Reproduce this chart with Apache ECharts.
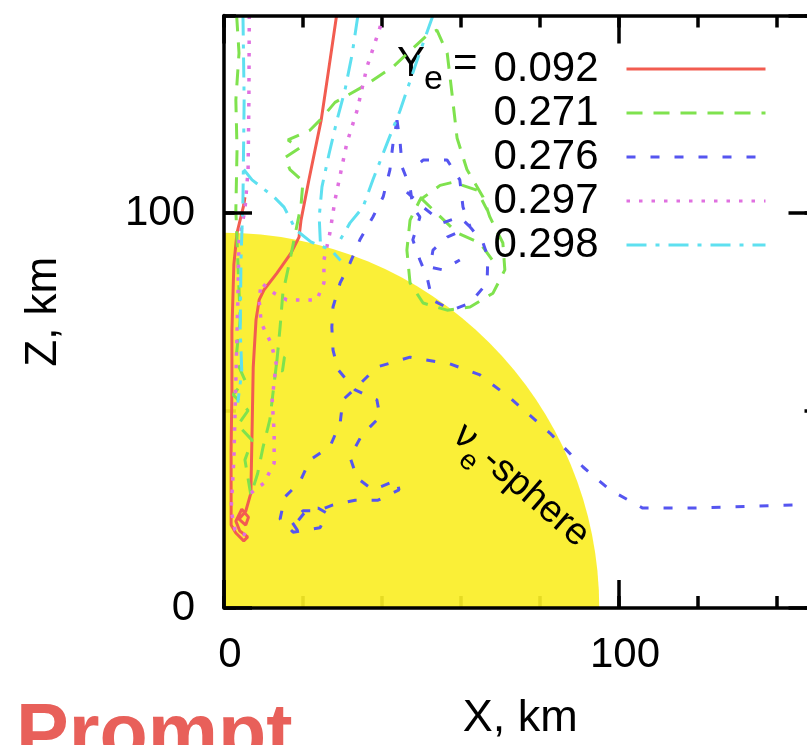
<!DOCTYPE html>
<html><head><meta charset="utf-8">
<script src="https://cdn.jsdelivr.net/npm/echarts@6/dist/echarts.min.js"></script>
<style>html,body{margin:0;padding:0;background:#fff}#c{width:807px;height:745px}</style>
</head><body><div id="c"></div>
<script>
// ---- data (km) ----
const yeLabels = ['0.092', '0.271', '0.276', '0.297', '0.298'];
const xTickLabels = ['0', '100'];
const zTickLabels = ['0', '100'];
const sphereRadius = [[0, 0, 95]];           // nu_e-sphere: centre (0,0), radius 95 km
const sphereLabelAt = [[60.5, 42.8]];

const traj092 = [
  [[28.5,150],[26.6,137],[24.6,123.5],[21.5,108.4],[19.5,98.2],[19.0,93.9],[17.0,89.9],[13.4,84.8],[10.1,80.5],[8.9,78],[8.1,72.9],[7.4,61],[7.1,44.3],[6.8,29.1],[5.5,24.5],[3.8,22.5],[5.5,21],[6.2,23],[4.5,25],[3.0,22],[4.0,19.5],[6.0,18],[5.0,17],[3.0,19],[1.8,21],[1.8,30],[1.8,40],[2.0,55],[2.0,70],[2.5,87],[3.3,95],[5.0,102],[5.3,104]]
];
const traj271 = [
  [[3.2,150],[3.8,140.5],[3.0,128.6],[3.3,116],[3.0,100.8],[3.5,88],[4.1,73],[3.0,62.8],[5.3,57.7],[2.3,54],[6.1,50],[3.5,46.3],[7.1,42.5],[5.3,37.5],[6.8,28.6],[8.5,34],[9.9,40.8],[11.6,47.6],[12.4,54.4],[13.4,62.8],[15.3,63.5],[14.8,60],[13.2,60.5],[14.2,71.1],[14.9,79.7],[16.7,88.1],[18.5,97],[19.5,102],[20,108],[16.7,111],[15.4,114],[19.2,116.5],[16.2,118.5],[21.8,121],[24.3,123.5],[28.1,128],[35.2,132],[42.8,137],[51.4,145],[53.9,146.3],[56.5,140.5],[57.7,130.4],[59,119],[61.5,111],[65.6,104],[67.3,99],[70.6,92.4],[71.1,85.6],[68.1,79.7],[62.3,76.2],[56.5,75.4],[50.4,77.2],[47.1,82.3],[46.3,90.6],[47.1,98.2],[49.6,103.3],[54.7,107],[58,107.8],[64,105.8],[66.6,100.8]],
  [[49.6,104],[59,95],[64.8,92.4],[68,88]]
];
const traj276 = [
  [[150,26.1],[145,26.1],[118.7,25.3],[106,25.3],[97.7,29.9],[90.9,35.7],[82.5,44.3],[72.4,53.2],[64.8,59],[57.2,61.8],[47.1,63.5],[38.7,61],[33.7,56],[30.1,52.7],[29.4,46.8],[26.8,40.8],[21.8,37.5],[19.2,31.9],[15.4,28.1],[14.2,22.5],[17.5,19.2],[24.3,20.3],[26.1,24],[23.8,25.3],[20.5,24.3],[18.5,21.8]],
  [[43.8,123.5],[42.8,117.7],[42.0,110.9],[40.3,104.1],[37.7,99.0],[34.4,93.2],[31.9,87.3],[29.4,82.3],[27.6,76.2],[27.3,71.1],[27.6,65.3],[28.9,60.3],[33.2,55.2],[38.7,52.7],[39.5,48.4],[34.9,43.8],[31.9,38.2],[33.7,32.9],[37.7,29.9],[43.8,32.4],[44.3,29.9],[39,27.3],[33.2,27.3],[27.6,26.1],[23.8,24.6],[20,24.6],[17.2,21.8],[18.7,19.5]],
  [[43.8,123.5],[44.6,117.7],[45.1,111.6],[47.1,106.6],[47.8,101.5],[49.6,99],[47.8,93.2],[49.6,88.1],[51.4,83.8],[52.7,78],[57.7,75.4],[62.3,77.2],[66.6,82.3],[66.8,88.9],[65.6,92.4],[62.3,96.5],[60.5,101.5],[59.7,108.4],[56.5,113.4],[50.4,113.4],[47.1,110.4]],
  [[46.3,105.3],[50.4,101.5],[55.4,97.5],[59.7,99],[62.3,96.5],[56.5,93.9],[52.9,90.6],[52.2,86.3],[55.4,85.6],[59.7,88.1]]
];
const traj297 = [
  [[6.4,150],[6.3,128.6],[6.1,111],[5.3,100.8],[3.8,93],[3.5,78],[3.0,57.7],[2.5,37.5],[1.8,24.8],[2.8,19.7],[5.1,18.5],[5.8,21]],
  [[6.8,29.1],[10.1,31.6],[12.7,36.7],[12.7,44.3],[12.2,52.7],[13.2,62],[11.9,67.1],[9.4,72.2],[8.9,78],[9.4,82.3],[12.7,79.7],[15.9,78],[23.5,78],[25.3,82.3],[25.3,88.1],[26.8,94.9],[28.1,103.3],[31.1,117.7],[33.7,126],[36.2,137],[39.5,147],[40.3,150]]
];
const traj298 = [
  [[4.8,150],[5.1,128.6],[4.8,103.3],[4.3,88.1],[4.1,70.4],[4.5,60],[3.5,52]],
  [[5.0,111],[7.1,108.4],[12.7,104],[15.2,101.5],[18.2,95.7],[22,92.7],[27.1,90.6],[29.5,88]],
  [[33.9,150],[32.4,140],[30.6,131],[28.6,123.5],[26.6,115],[24.8,106.6],[24.1,99],[24.4,92.5]],
  [[52.9,150],[48.9,138.7],[44.6,126],[41.3,117.7],[37.7,108.4],[35.2,101.5],[31.9,97.5],[29.4,93.2]]
];

// ---- styling ----
const FONT = 'Liberation Sans, Arial, Helvetica, sans-serif';
const colors = ['#f25c50', '#7fe24e', '#5555f0', '#e070e0', '#5ee0f0'];
const dashes = ['solid', [16, 11], [9, 15], [3.5, 9], [20, 9, 4, 9]];
const widths = [3, 3, 3, 3.5, 3];
const trajs = [traj092, traj271, traj276, traj297, traj298];

function flatten(segs) {
  const out = [];
  segs.forEach((s, i) => { if (i) out.push(['-', '-']); s.forEach(p => out.push(p)); });
  return out;
}

const lineSeries = trajs.map((t, i) => ({
  type: 'line', name: yeLabels[i], data: flatten(t), xAxisIndex: 0, yAxisIndex: 0,
  symbol: 'none', showSymbol: false, connectNulls: false, smooth: false, z: 2,
  lineStyle: { color: colors[i], width: widths[i], type: dashes[i] },
  itemStyle: { color: colors[i] }, emphasis: { disabled: true }
}));

const blackLine = { color: '#000', width: 3.5 };
function majorX(pos, labels) {
  return { type: 'value', position: pos, min: 0, max: 150, interval: 100, z: 5, offset: 0,
    axisLine: { show: true, onZero: false, lineStyle: blackLine },
    axisTick: { show: true, inside: true, length: 28, lineStyle: blackLine },
    axisLabel: labels ? { show: true, fontSize: 42, fontFamily: FONT, color: '#000', margin: 26,
      showMaxLabel: false, padding: [0, 0, 0, 12],
      formatter: v => { const k = [0, 100].indexOf(v); return k >= 0 ? xTickLabels[k] : ''; } } : { show: false },
    splitLine: { show: false } };
}
function minorX(pos) {
  return { type: 'value', position: pos, min: 0, max: 150, interval: 20, z: 0, offset: 0,
    axisLine: { show: false, onZero: false }, axisTick: { show: true, inside: true, length: 12, lineStyle: blackLine },
    axisLabel: { show: false }, splitLine: { show: false } };
}
function majorY(pos, labels) {
  return { type: 'value', position: pos, min: 0, max: 150, interval: 100, z: 5, offset: 0,
    axisLine: { show: true, onZero: false, lineStyle: blackLine },
    axisTick: { show: true, inside: true, length: 28, lineStyle: blackLine },
    axisLabel: labels ? { show: true, fontSize: 42, fontFamily: FONT, color: '#000', margin: 29,
      showMaxLabel: false,
      formatter: v => { const k = [0, 100].indexOf(v); return k >= 0 ? zTickLabels[k] : ''; } } : { show: false },
    splitLine: { show: false } };
}
function minorY(pos) {
  return { type: 'value', position: pos, min: 0, max: 150, interval: 50, z: 0, offset: 0,
    axisLine: { show: false, onZero: false }, axisTick: { show: true, inside: true, length: 12, lineStyle: blackLine },
    axisLabel: { show: false }, splitLine: { show: false } };
}

const xBottom = majorX('bottom', true);
xBottom.name = 'X, km'; xBottom.nameLocation = 'middle'; xBottom.nameGap = 88;
xBottom.nameTextStyle = { fontSize: 45, fontFamily: FONT, color: '#000' };
const yLeft = majorY('left', true);
yLeft.name = 'Z, km'; yLeft.nameLocation = 'middle'; yLeft.nameGap = 158; yLeft.nameRotate = 90;
yLeft.nameTextStyle = { fontSize: 44, fontFamily: FONT, color: '#000' };

const chart = echarts.init(document.getElementById('c'), null, { renderer: 'canvas' });
chart.setOption({
  animation: false,
  backgroundColor: '#fff',
  grid: { left: 224, top: 15.5, width: 592.5, height: 592.5, containLabel: false, outerBoundsMode: 'none' },
  xAxis: [xBottom, minorX('bottom'), majorX('top', false), minorX('top')],
  yAxis: [yLeft, minorY('left'), majorY('right', false), minorY('right')],
  legend: {
    data: yeLabels, orient: 'vertical', align: 'right', right: 40, top: 47, padding: 0,
    itemGap: 0, itemWidth: 139, itemHeight: 14, selectedMode: false,
    textStyle: { fontSize: 42, fontFamily: FONT, color: '#000', lineHeight: 44, padding: [0, 23, 0, 0] },
    itemStyle: { opacity: 0 }, lineStyle: { width: 3 }
  },
  graphic: [
    { type: 'text', x: 397, y: 64, style: { text: 'Y', fontSize: 42, fontFamily: FONT, fill: '#000', align: 'left', verticalAlign: 'middle' } },
    { type: 'text', x: 424, y: 80, style: { text: 'e', fontSize: 34, fontFamily: FONT, fill: '#000', align: 'left', verticalAlign: 'middle' } },
    { type: 'text', x: 453, y: 64, style: { text: '=', fontSize: 42, fontFamily: FONT, fill: '#000', align: 'left', verticalAlign: 'middle' } },
    { type: 'text', x: 16, y: 698, style: { text: 'Prompt', fontSize: 79, fontWeight: 'bold', fontFamily: FONT, fill: '#e8605a', align: 'left', verticalAlign: 'top' } }
  ],
  series: [
    { type: 'custom', name: 'sphere', coordinateSystem: 'cartesian2d', xAxisIndex: 0, yAxisIndex: 0,
      data: sphereRadius, silent: true, z: 1, clip: true,
      renderItem: (params, api) => {
        const c = api.coord([api.value(0), api.value(1)]);
        const r = api.size([api.value(2), 0])[0];
        return { type: 'sector', shape: { cx: c[0], cy: c[1], r0: 0, r: r, startAngle: -Math.PI / 2, endAngle: 0, clockwise: true },
          style: { fill: 'rgba(250,238,38,0.92)' } };
      } },
    ...lineSeries,
    { type: 'custom', name: 'sphereLabel', coordinateSystem: 'cartesian2d', xAxisIndex: 0, yAxisIndex: 0,
      data: sphereLabelAt, silent: true, z: 3,
      renderItem: (params, api) => {
        const p = api.coord([api.value(0), api.value(1)]);
        const st = (t, x, y, fs) => ({ type: 'text', style: { text: t, x: x, y: y, fontSize: fs, fontFamily: FONT, fill: '#000', align: 'left', verticalAlign: 'middle' } });
        return { type: 'group', x: p[0], y: p[1], rotation: -41 * Math.PI / 180,
          children: [st('ν', -9, -3, 38), st('e', 11, 13.6, 28), st('-sphere', 29, -3, 38)] };
      } }
  ]
});
</script></body></html>
